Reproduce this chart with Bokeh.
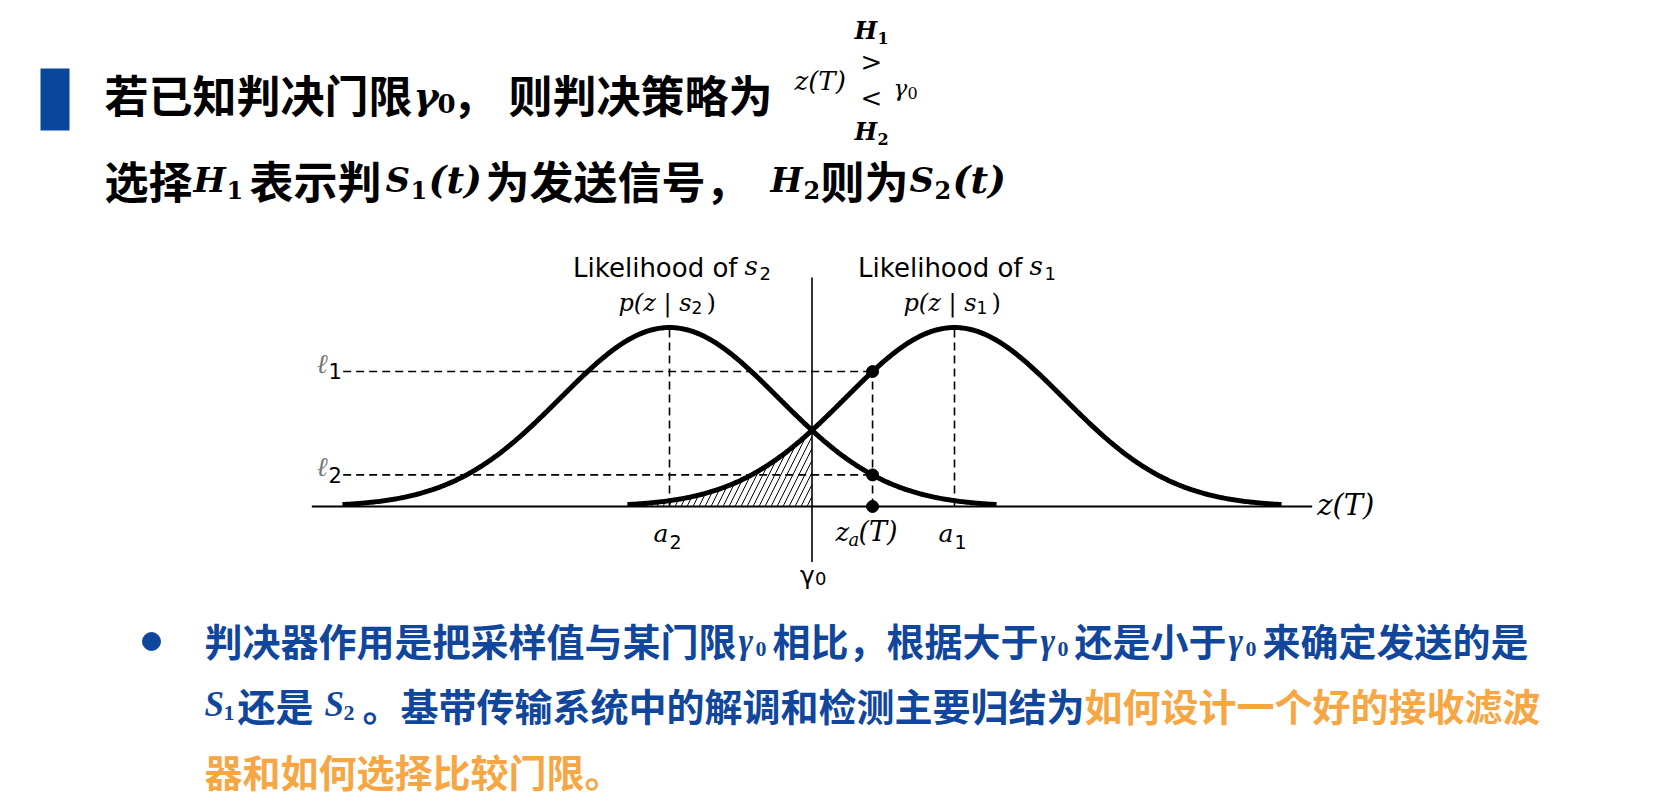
import numpy as np
from bokeh.plotting import figure
from bokeh.models import Label, Range1d
from bokeh.embed import file_html
from bokeh.resources import INLINE

# ---------------- data (diagram units) ----------------
curve_names = ["s2", "s1"]
curve_means = [-1.0, 1.0]          # a2, a1
curve_sigma = [0.765, 0.765]
gamma0 = 0.0                        # decision threshold
z_a = 0.425                         # sample value z_a(T)
axis_span = [-3.51, 3.51]           # z(T) axis extent
gamma_line_span = [-0.31, 1.28]     # vertical threshold line extent
dash_left = -3.29                   # where the l1 / l2 guide lines start
tail = 3.0                          # curves drawn to +-3 sigma

# ---------------- layout ----------------
W, H, M = 1658, 800, 0
ORIGIN_PX, PX_PER_Z = 811.5, 142.5
BASE_PY, PX_PER_P = 506.0, 179.0

def zx(z):      # diagram z -> page x pixel
    return ORIGIN_PX + z * PX_PER_Z

def pz(px):     # page x pixel -> z
    return (px - ORIGIN_PX) / PX_PER_Z

def pp(py):     # page y pixel -> p
    return (BASE_PY - py) / PX_PER_P

p = figure(width=W, height=H, x_axis_type=None, y_axis_type=None,
           x_range=Range1d(pz(M), pz(M + W)), y_range=Range1d(pp(M + H), pp(M)),
           toolbar_location=None, output_backend="svg", min_border=0,
           outline_line_color=None, background_fill_color="white",
           border_fill_color="white")

def gauss(z, m, s):
    return np.exp(-(z - m) ** 2 / (2 * s ** 2))

def lab(text, px, py, size, color="black", font="Noto Sans CJK SC",
        style="bold", align="left", baseline="middle"):
    p.add_layout(Label(x=px - M, y=(M + H) - py, x_units="screen", y_units="screen",
                       text=text, text_font=font, text_font_size=f"{size}px",
                       text_font_style=style, text_color=color,
                       text_align=align, text_baseline=baseline))

m2, m1 = curve_means
s2, s1 = curve_sigma
l1 = float(gauss(z_a, m1, s1))
l2 = float(gauss(z_a, m2, s2))

# hatched error region under p(z|s1) left of gamma0
zh = np.linspace(m1 - tail * s1, gamma0, 200)
p.patch(np.concatenate([zh, [gamma0, m1 - tail * s1]]),
        np.concatenate([gauss(zh, m1, s1), [0, 0]]),
        fill_color=None, line_color=None, hatch_pattern="/",
        hatch_color="black", hatch_weight=1, hatch_scale=12)

# axis and threshold line
p.line(axis_span, [0, 0], line_color="black", line_width=2)
p.line([gamma0, gamma0], gamma_line_span, line_color="black", line_width=1.6)

# dashed guides
dash = dict(line_color="black", line_width=1.6, line_dash="8 5")
p.line([dash_left, z_a], [l1, l1], **dash)
p.line([dash_left, z_a], [l2, l2], **dash)
p.line([m2, m2], [0, 1], **dash)
p.line([m1, m1], [0, 1], **dash)
p.line([z_a, z_a], [0, l1], **dash)

# likelihood curves
for m, s in zip(curve_means, curve_sigma):
    z = np.linspace(m - tail * s, m + tail * s, 400)
    p.line(z, gauss(z, m, s), line_color="black", line_width=5)

p.scatter([z_a, z_a, z_a], [l1, l2, 0], size=12, color="black")

# ---------------- diagram labels ----------------
SANS = "DejaVu Sans"
DSERIF = "DejaVu Serif"
for name, m in zip(curve_names, curve_means):
    cx = zx(m)
    sub = name[1]
    lab("Likelihood of", cx + 68, 267, 26, font=SANS, style="normal", align="right")
    lab("s", cx + 75, 265, 26, font=DSERIF, style="italic")
    lab(sub, cx + 90, 273, 18, font=SANS, style="normal")
    lab("p(z | s", cx - 51, 302, 24, font=DSERIF, style="italic")
    lab(sub, cx + 22, 307, 17, font=SANS, style="normal")
    lab(")", cx + 37, 302, 24, font=DSERIF, style="normal")
    lab("a", cx - 16, 533, 25, font=DSERIF, style="italic")
    lab(sub, cx, 541, 19, font=SANS, style="normal")

zax = zx(z_a)
lab("z", zax - 37, 531, 26, font=DSERIF, style="italic")
lab("a", zax - 24, 539, 18, font=DSERIF, style="italic")
lab("(T)", zax - 14, 531, 27, font=DSERIF, style="italic")
lab("z(T)", zx(axis_span[1]) + 5, 504, 29, font=DSERIF, style="italic")
lab("\u03b3", zx(gamma0) - 12, 575, 25, font=SANS, style="normal")
lab("0", zx(gamma0) + 3, 578, 18, font=SANS, style="normal")
lab("\u2113", 316, 363, 27, color="#777777", font=DSERIF, style="italic")
lab("1", 328, 370, 21, font=SANS, style="normal")
lab("\u2113", 316, 466, 27, color="#777777", font=DSERIF, style="italic")
lab("2", 328, 474, 21, font=SANS, style="normal")

# ---------------- slide text ----------------
BLUE_BAR = "#0a479c"
p.quad(left=[pz(40)], right=[pz(69)], top=[pp(68)], bottom=[pp(130)],
       fill_color=BLUE_BAR, line_color=None)

HS = 44
Y1, Y2 = 93, 179
lab("若已知判决门限", 104, Y1, HS)
lab("\u03b3", 413, Y1 + 2, 38, font=DSERIF, style="bold italic")
lab("0", 437, Y1 + 10, 26, font=DSERIF, style="bold")
lab("，", 452, Y1, HS)
lab("则判决策略为", 508, Y1, HS)
# decision rule
lab("z(T)", 794, 80, 26, font=DSERIF, style="italic")
lab("H", 854, 30, 24, font=DSERIF, style="bold italic")
lab("1", 877, 37, 16, font=DSERIF, style="bold")
lab(">", 871, 61, 26, font=DSERIF, style="normal", align="center")
lab("<", 871, 97, 26, font=DSERIF, style="normal", align="center")
lab("\u03b3", 893, 87, 23, font=DSERIF, style="italic")
lab("0", 907, 92, 16, font=DSERIF, style="normal")
lab("H", 854, 131, 24, font=DSERIF, style="bold italic")
lab("2", 877, 138, 16, font=DSERIF, style="bold")

lab("选择", 104, Y2, HS)
lab("H", 193, Y2, 34, font=DSERIF, style="bold italic")
lab("1", 226, Y2 + 10, 24, font=DSERIF, style="bold")
lab("表示判", 249, Y2, HS)
lab("S", 385, Y2, 34, font=DSERIF, style="bold italic")
lab("1", 410, Y2 + 10, 24, font=DSERIF, style="bold")
lab("(t)", 428, Y2, 38, font=DSERIF, style="bold italic")
lab("为发送信号，", 485, Y2, HS)
lab("H", 770, Y2, 34, font=DSERIF, style="bold italic")
lab("2", 803, Y2 + 10, 24, font=DSERIF, style="bold")
lab("则为", 820, Y2, HS)
lab("S", 909, Y2, 34, font=DSERIF, style="bold italic")
lab("2", 934, Y2 + 10, 24, font=DSERIF, style="bold")
lab("(t)", 952, Y2, 38, font=DSERIF, style="bold italic")

# bullet
BLUE = "#11469d"
ORANGE = "#f6a642"
SERIF = "Liberation Serif"
p.scatter([pz(151)], [pp(641)], size=18, color=BLUE)
BS = 38
B1, B2, B3 = 639, 704, 770

def run_width(t):
    return len(t) * BS

x = 204
for seg in ["判决器作用是把采样值与某门限", "G", "相比，根据大于", "G", "还是小于", "G", "来确定发送的是"]:
    if seg == "G":
        lab("\u03b3", x + 2, B1 + 2, 35, color=BLUE, font=SERIF, style="bold italic")
        lab("0", x + 19, B1 + 9, 22, color=BLUE, font=SERIF, style="bold")
        x += 36
    else:
        lab(seg, x, B1, BS, color=BLUE)
        x += run_width(seg)

lab("S", 204, B2, 35, color=BLUE, font=SERIF, style="bold italic")
lab("1", 223, B2 + 8, 22, color=BLUE, font=SERIF, style="bold")
lab("还是", 237, B2, BS, color=BLUE)
lab("S", 324, B2, 35, color=BLUE, font=SERIF, style="bold italic")
lab("2", 343, B2 + 8, 22, color=BLUE, font=SERIF, style="bold")
blue2 = "。基带传输系统中的解调和检测主要归结为"
lab(blue2, 362, B2, BS, color=BLUE)
lab("如何设计一个好的接收滤波", 362 + run_width(blue2), B2, BS, color=ORANGE)
lab("器和如何选择比较门限。", 204, B3, BS, color=ORANGE)

open("out.html", "w").write(file_html(p, INLINE))
